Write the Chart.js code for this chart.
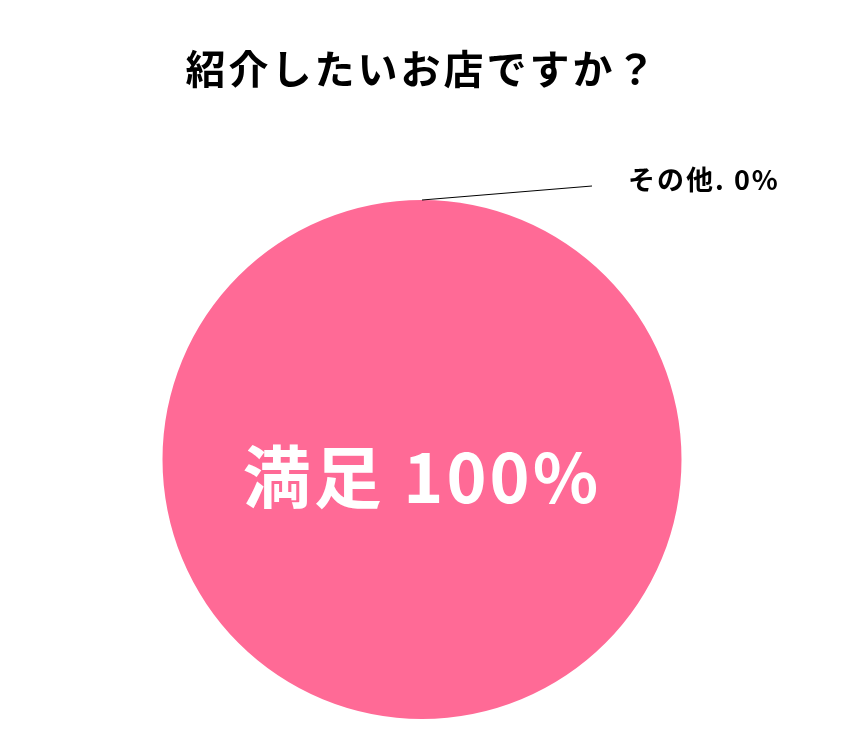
<!DOCTYPE html>
<html>
<head>
<meta charset="utf-8">
<script src="https://cdn.jsdelivr.net/npm/chart.js@4"></script>
<style>
  html, body { margin: 0; padding: 0; background: #fff; }
  #wrap { width: 844px; height: 751px; }
</style>
</head>
<body>
<div id="wrap"><canvas id="pieChart" width="844" height="751"></canvas></div>
<script>
const labels = ['満足', 'その他'];
const values = [100, 0];
const colors = ['#ff6a96', '#7f7f7f'];
const titleText = '紹介したいお店ですか？';
const FONT = '"Noto Sans CJK JP", "Noto Sans", sans-serif';

// the reference font is wider, so space the letters a bit
const spacing = {
    id: 'spacing',
    beforeDraw(chart) {
        chart.ctx.letterSpacing = '3px';
    }
};

// draws the slice labels: big one inside, small one outside with a leader line
const sliceLabels = {
    id: 'sliceLabels',
    afterDatasetsDraw(chart) {
        const ctx = chart.ctx;
        const meta = chart.getDatasetMeta(0);
        const total = values.reduce((a, b) => a + b, 0);
        meta.data.forEach(function(arc, i) {
            const pct = Math.round(values[i] / total * 100);
            const text = labels[i] + (pct >= 100 ? ' ' : '. ') + pct + '%';
            ctx.save();
            if (values[i] / total > 0.5) {
                ctx.letterSpacing = '3px';
                ctx.fillStyle = '#ffffff';
                ctx.font = 'bold 68px ' + FONT;
                ctx.textAlign = 'center';
                ctx.textBaseline = 'middle';
                ctx.fillText(text, arc.x, arc.y + 18);
            } else {
                const a = arc.startAngle;
                const sx = arc.x + Math.cos(a) * arc.outerRadius;
                const sy = arc.y + Math.sin(a) * arc.outerRadius;
                const ex = sx + 170, ey = sy - 14;
                ctx.strokeStyle = '#000';
                ctx.lineWidth = 1;
                ctx.beginPath();
                ctx.moveTo(sx, sy);
                ctx.lineTo(ex, ey);
                ctx.stroke();
                ctx.letterSpacing = '2px';
                ctx.fillStyle = '#000';
                ctx.font = 'bold 27px ' + FONT;
                ctx.textAlign = 'left';
                ctx.textBaseline = 'middle';
                ctx.fillText(text, ex + 36, ey - 6);
            }
            ctx.restore();
        });
    }
};

const ctx = document.getElementById('pieChart').getContext('2d');
new Chart(ctx, {
    type: 'pie',
    data: {
        labels: labels,
        datasets: [{
            data: values,
            backgroundColor: colors,
            borderWidth: 0
        }]
    },
    options: {
        responsive: false,
        animation: false,
        layout: { padding: { top: 0, bottom: 32 } },
        plugins: {
            legend: { display: false },
            tooltip: { enabled: false },
            title: {
                display: true,
                text: titleText,
                color: '#000',
                font: { family: FONT, size: 40, weight: 'bold' },
                padding: { top: 45, bottom: 107 }
            }
        }
    },
    plugins: [spacing, sliceLabels]
});
</script>
</body>
</html>
